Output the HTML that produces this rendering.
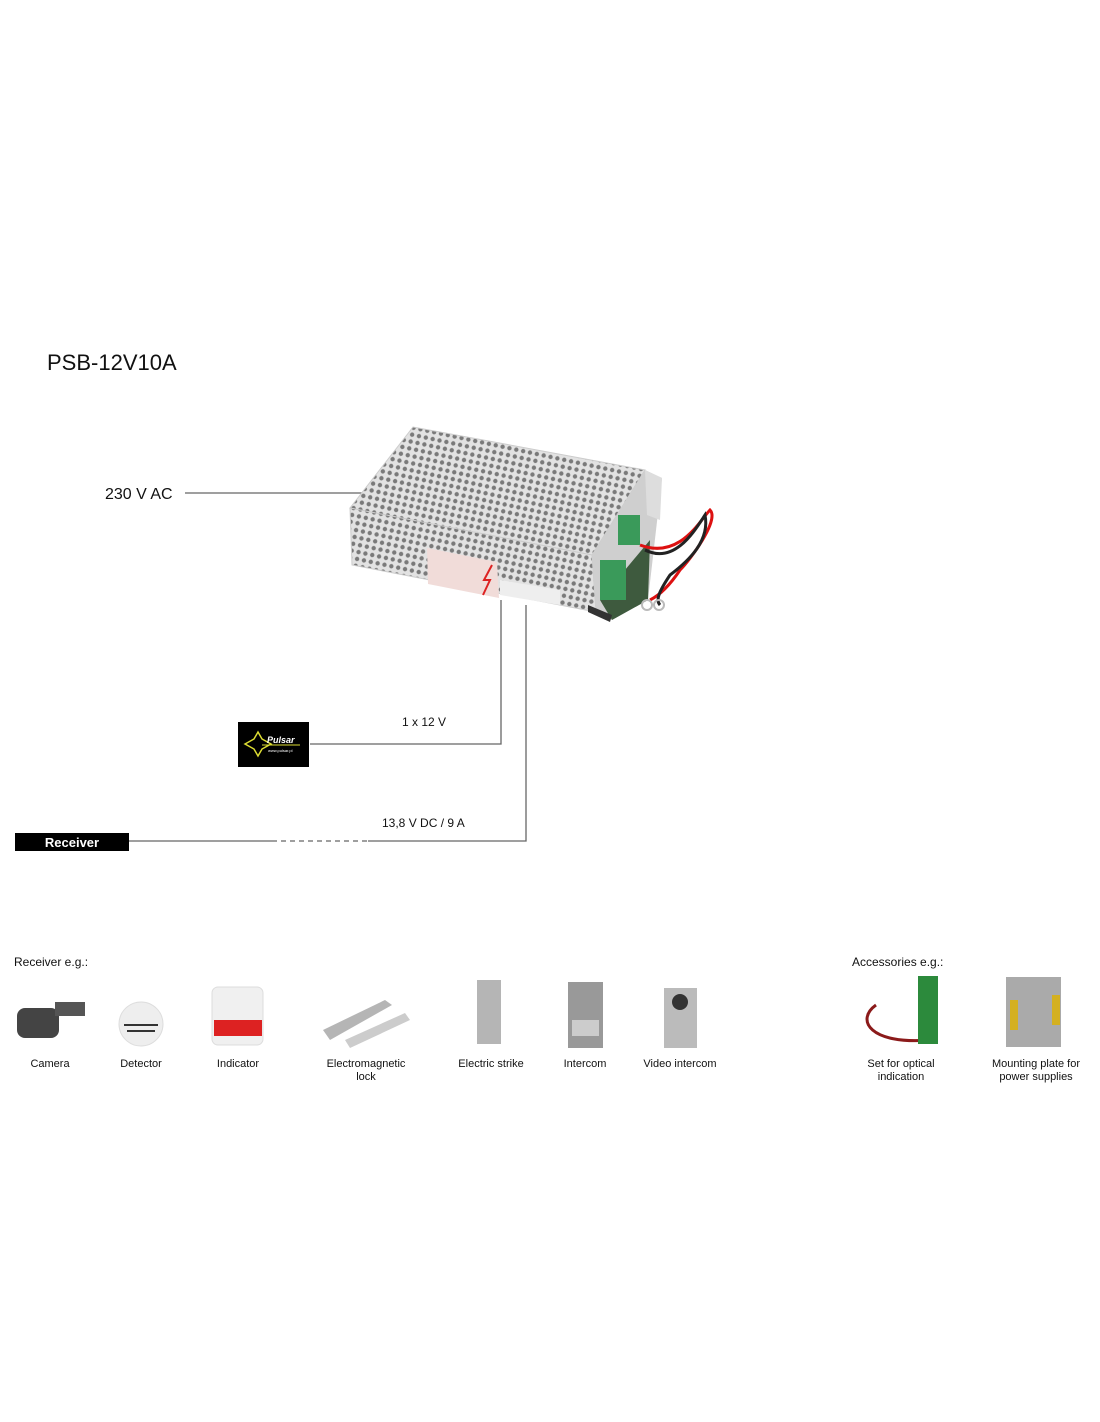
<!DOCTYPE html>
<html><head><meta charset="utf-8"><style>
html,body{margin:0;padding:0;background:#fff;}
svg{display:block;}
text{font-family:"Liberation Sans","DejaVu Sans",sans-serif;fill:#111;}
</style></head><body>
<svg width="1100" height="1422" viewBox="0 0 1100 1422" xmlns="http://www.w3.org/2000/svg">
<defs>
<pattern id="holes" width="7" height="7" patternUnits="userSpaceOnUse" patternTransform="rotate(12)">
<rect width="7" height="7" fill="#e2e2e2"/>
<circle cx="3.5" cy="3.5" r="2.2" fill="#7a7a7a"/>
</pattern>
</defs>
<text x="47" y="370" font-size="22">PSB-12V10A</text>
<text x="105" y="499" font-size="16">230 V AC</text>
<line x1="185" y1="493" x2="362" y2="493" stroke="#666" stroke-width="1.3"/>

<!-- power supply -->
<polygon points="350,508 413,427 645,470 592,555" fill="url(#holes)" stroke="#ccc"/>
<polygon points="350,508 592,555 596,612 352,565" fill="url(#holes)" stroke="#ccc"/>
<polygon points="427,548 497,562 499,598 428,584" fill="#f1dcd9"/>
<path d="M492,565 L484,580 L490,580 L483,595" fill="none" stroke="#d22" stroke-width="2"/>
<polygon points="500,580 560,590 560,605 500,595" fill="#eee"/>
<polygon points="592,555 645,470 662,478 648,600 612,620 596,612" fill="#cfcfcf"/>
<polygon points="600,600 650,540 648,600 612,620" fill="#3e5a3e"/>
<polygon points="645,470 662,478 660,520 647,515" fill="#ddd"/>
<rect x="618" y="515" width="22" height="30" fill="#3a9a5a"/>
<rect x="600" y="560" width="26" height="40" fill="#3a9a5a"/>
<polygon points="588,605 612,615 610,622 588,612" fill="#333"/>
<path d="M640,545 C680,560 700,520 710,510 C720,520 690,560 680,570 C670,585 660,595 650,600" fill="none" stroke="#d11" stroke-width="3"/>
<path d="M645,550 C675,565 695,530 705,515 C710,540 690,560 670,575 C660,590 655,600 660,605" fill="none" stroke="#222" stroke-width="3"/>
<circle cx="647" cy="605" r="5" fill="none" stroke="#bbb" stroke-width="2"/>
<circle cx="659" cy="605" r="5" fill="none" stroke="#bbb" stroke-width="2"/>

<!-- connectors -->
<polyline points="501,600 501,744 310,744" fill="none" stroke="#666" stroke-width="1.3"/>
<polyline points="526,605 526,841 368,841" fill="none" stroke="#666" stroke-width="1.3"/>
<line x1="272" y1="841" x2="368" y2="841" stroke="#666" stroke-width="1.3" stroke-dasharray="5,4"/>
<line x1="129" y1="841" x2="272" y2="841" stroke="#666" stroke-width="1.3"/>
<text x="402" y="726" font-size="12">1 x 12 V</text>
<text x="382" y="827" font-size="12">13,8 V DC / 9 A</text>

<rect x="238" y="722" width="71" height="45" fill="#000"/>
<path d="M245,744 L254,739 L258,732 L262,739 L271,744 L262,749 L258,756 L254,749 Z" fill="none" stroke="#dd3" stroke-width="1.5"/>
<text x="267" y="743" font-size="9" font-style="italic" font-weight="bold" style="fill:#fff">Pulsar</text>
<line x1="262" y1="745" x2="300" y2="745" stroke="#dd3" stroke-width="1"/>
<text x="268" y="752" font-size="4" style="fill:#fff">www.pulsar.pl</text>

<rect x="15" y="833" width="114" height="18" fill="#000"/>
<text x="72" y="847" font-size="13" font-weight="bold" text-anchor="middle" style="fill:#fff">Receiver</text>

<text x="14" y="966" font-size="12">Receiver e.g.:</text>
<text x="852" y="966" font-size="12">Accessories e.g.:</text>

<!-- icons -->
<rect x="17" y="1008" width="42" height="30" rx="8" fill="#444"/>
<rect x="55" y="1002" width="30" height="14" fill="#555"/>
<circle cx="141" cy="1024" r="22" fill="#eee" stroke="#ddd"/>
<path d="M124,1025 h34 M127,1031 h28" stroke="#333" stroke-width="2"/>
<rect x="212" y="987" width="51" height="58" rx="6" fill="#f0f0f0" stroke="#ddd"/>
<rect x="214" y="1020" width="48" height="16" fill="#d22"/>
<polygon points="323,1030 385,1000 392,1005 330,1040" fill="#b5b5b5"/>
<polygon points="345,1040 405,1013 410,1020 350,1048" fill="#ccc"/>
<rect x="477" y="980" width="24" height="64" fill="#b5b5b5"/>
<rect x="568" y="982" width="35" height="66" fill="#999"/>
<rect x="572" y="1020" width="27" height="16" fill="#ccc"/>
<rect x="664" y="988" width="33" height="60" fill="#bbb"/>
<circle cx="680" cy="1002" r="8" fill="#333"/>
<path d="M876,1005 C855,1020 870,1045 930,1040" fill="none" stroke="#8b1a1a" stroke-width="3"/>
<rect x="918" y="976" width="20" height="68" fill="#2c8a3c"/>
<rect x="1006" y="977" width="55" height="70" fill="#aaa"/>
<rect x="1010" y="1000" width="8" height="30" fill="#d4b020"/>
<rect x="1052" y="995" width="8" height="30" fill="#d4b020"/>

<g font-size="11" text-anchor="middle">
<text x="50" y="1067">Camera</text>
<text x="141" y="1067">Detector</text>
<text x="238" y="1067">Indicator</text>
<text x="366" y="1067">Electromagnetic</text>
<text x="366" y="1080">lock</text>
<text x="491" y="1067">Electric strike</text>
<text x="585" y="1067">Intercom</text>
<text x="680" y="1067">Video intercom</text>
<text x="901" y="1067">Set for optical</text>
<text x="901" y="1080">indication</text>
<text x="1036" y="1067">Mounting plate for</text>
<text x="1036" y="1080">power supplies</text>
</g>
</svg>
</body></html>
